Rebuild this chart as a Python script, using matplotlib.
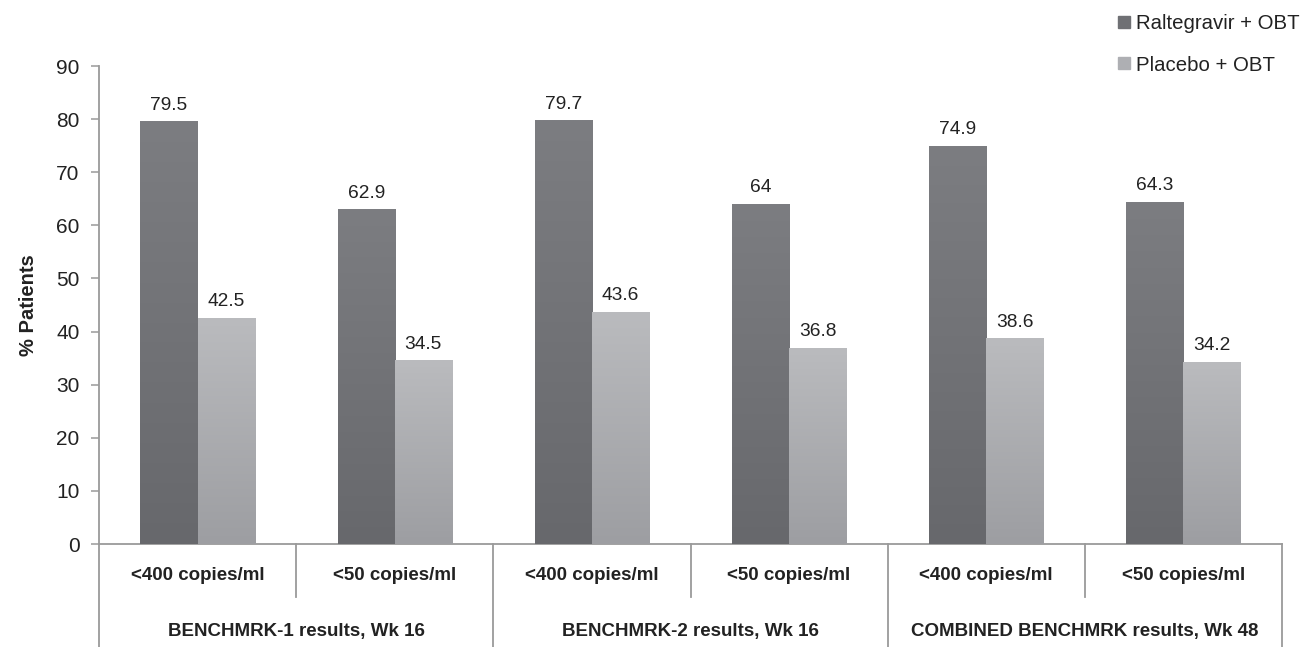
import numpy as np
import matplotlib
matplotlib.use("Agg")
from matplotlib import pyplot as plt
from matplotlib.colors import LinearSegmentedColormap
from matplotlib.lines import Line2D
import matplotlib.transforms as mtransforms

plt.rcParams['font.family'] = ['Liberation Sans', 'DejaVu Sans']

# data
sub_labels = ["<400 copies/ml", "<50 copies/ml"] * 3
group_labels = ["BENCHMRK-1 results, Wk 16", "BENCHMRK-2 results, Wk 16",
                "COMBINED BENCHMRK results, Wk 48"]
series_names = ["Raltegravir + OBT", "Placebo + OBT"]
raltegravir = [79.5, 62.9, 79.7, 64, 74.9, 64.3]
placebo = [42.5, 34.5, 43.6, 36.8, 38.6, 34.2]

dark_cmap = LinearSegmentedColormap.from_list("dark", ["#67686c", "#7c7d81"])
light_cmap = LinearSegmentedColormap.from_list("light", ["#9d9ea2", "#babbbe"])

fig = plt.figure(figsize=(13.12, 6.47), dpi=100)
ax = fig.add_axes([99 / 1312, 103 / 647, (1282 - 99) / 1312, 478 / 647])

x = np.arange(len(sub_labels))
w = 0.29
bars1 = ax.bar(x - w / 2, raltegravir, w, color="#727377", label=series_names[0], zorder=2)
bars2 = ax.bar(x + w / 2, placebo, w, color="#aaabaf", label=series_names[1], zorder=2)

grad = np.linspace(0, 1, 256).reshape(-1, 1)
for bars, cmap in [(bars1, dark_cmap), (bars2, light_cmap)]:
    for b in bars:
        x0 = b.get_x()
        ax.imshow(grad, extent=[x0, x0 + b.get_width(), 0, b.get_height()],
                  origin='lower', aspect='auto', cmap=cmap, zorder=3)
        ax.annotate(f"{b.get_height():g}", (x0 + b.get_width() / 2, b.get_height()),
                    xytext=(0, 12), textcoords='offset points', ha='center', va='center',
                    fontsize=13.8, color="#222222")

ax.set_xlim(-0.5, len(sub_labels) - 0.5)
ax.set_ylim(0, 90)
ax.set_yticks(range(0, 91, 10))
ax.set_xticks([])
for s in ['top', 'right']:
    ax.spines[s].set_visible(False)
for s in ['left', 'bottom']:
    ax.spines[s].set_color("#9a9a9a")
    ax.spines[s].set_linewidth(1.3)
ax.tick_params(axis='y', length=6, width=1.1, color="#9a9a9a", labelsize=15,
               labelcolor="#222222", pad=8)
ax.set_ylabel("% Patients", fontsize=14.5, fontweight='bold', color="#222222", labelpad=13)

# two-level category axis
trans = mtransforms.blended_transform_factory(ax.transData, ax.transAxes)
for i, lab in enumerate(sub_labels):
    ax.text(i, -0.065, lab, transform=trans, ha='center', va='center',
            fontsize=13.5, fontweight='bold', color="#222222")
for i in range(len(sub_labels) + 1):
    bottom = -0.215 if i % 2 == 0 else -0.111
    ax.plot([i - 0.5, i - 0.5], [0, bottom], transform=trans, color="#9a9a9a",
            lw=1.3, clip_on=False)
for g, lab in enumerate(group_labels):
    ax.text(2 * g + 0.5, -0.183, lab, transform=trans, ha='center', va='center',
            fontsize=13.5, fontweight='bold', color="#222222")

handles = [Line2D([], [], marker='s', ls='none', markersize=8, color="#6f7074"),
           Line2D([], [], marker='s', ls='none', markersize=8, color="#aeafb3")]
fig.legend(handles, series_names, loc='upper left', bbox_to_anchor=(1110 / 1312, 1 - 6 / 647),
           frameon=False, fontsize=14.7, handlelength=0.6, handletextpad=0.25,
           labelspacing=1.1, labelcolor="#222222", borderaxespad=0)

fig.savefig("out.png", dpi=100)
